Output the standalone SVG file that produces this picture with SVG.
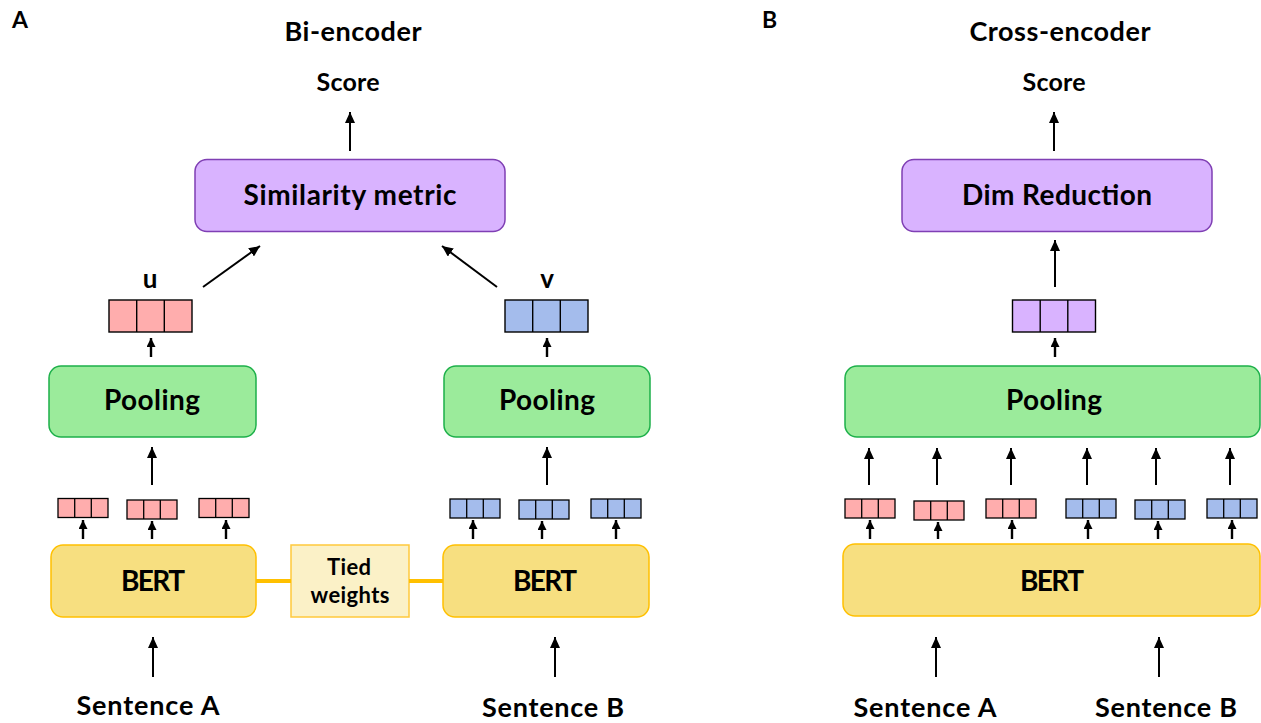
<svg xmlns="http://www.w3.org/2000/svg" xmlns:xlink="http://www.w3.org/1999/xlink" width="1261" height="723" viewBox="0 0 1261 723">
  <style>
    text { font-family: Lato, "Liberation Sans", sans-serif; font-weight: bold; fill: #000; }
    .mid { text-anchor: middle; }
    .panel { font-size: 23px; }
    .title { font-size: 27px; }
    .score { font-size: 25px; }
    .label { font-size: 28px; }
    .vname { font-size: 26px; }
    .tied { font-size: 22px; }
    .sent { font-size: 27px; }
    .metric { fill: #D9B3FF; stroke: #7F3FB4; stroke-width: 1.5; }
    .pool { fill: #9BEB9B; stroke: #1DB04A; stroke-width: 1.5; }
    .bert { fill: #F7DF80; stroke: #FFC000; stroke-width: 1.5; }
    .tiedbox { fill: #FBF1C7; stroke: #FFC93C; stroke-width: 1.5; }
    .link { stroke: #FFC000; stroke-width: 4; }
    .arrow { stroke: #000; stroke-width: 2; fill: none; marker-end: url(#head); }
    .arrow-s { stroke: #000; stroke-width: 2.4; fill: none; marker-end: url(#head-s); }
    .pink { fill: #FFADAD; }
    .blue { fill: #A4BCEC; }
    .lilac { fill: #D9B3FF; }
  </style>
  <defs>
    <marker id="head" markerUnits="userSpaceOnUse" markerWidth="11" markerHeight="10" refX="11" refY="5" orient="auto">
      <path d="M0,0 L11,5 L0,10 z" fill="#000"/>
    </marker>
    <marker id="head-s" markerUnits="userSpaceOnUse" markerWidth="9" markerHeight="9" refX="9" refY="4.5" orient="auto">
      <path d="M0,0 L9,4.5 L0,9 z" fill="#000"/>
    </marker>
    <!-- token embedding: three cells -->
    <g id="vec-s">
      <rect x="0" y="0" width="50" height="19" stroke="#000" stroke-width="1.3"/>
      <path d="M16.7,0 V19 M33.3,0 V19" stroke="#000" stroke-width="1.3"/>
    </g>
    <!-- sentence embedding: three cells -->
    <g id="vec-l">
      <rect x="0" y="0" width="83" height="32" stroke="#000" stroke-width="1.4"/>
      <path d="M27.7,0 V32 M55.3,0 V32" stroke="#000" stroke-width="1.4"/>
    </g>
  </defs>

  <rect width="1261" height="723" fill="#fff"/>

  <!-- panel headings -->
  <text class="panel" x="12" y="28">A</text>
  <text class="panel" x="762" y="28">B</text>
  <text class="title mid" x="353" y="41" textLength="137">Bi-encoder</text>
  <text class="title mid" x="1060" y="41" textLength="181">Cross-encoder</text>
  <text class="score mid" x="348" y="91" textLength="63">Score</text>
  <text class="score mid" x="1054" y="91" textLength="63">Score</text>

  <!-- ===== Bi-encoder ===== -->
  <g id="similarity-metric">
    <rect class="metric" x="195" y="159.5" width="310" height="72" rx="12"/>
    <text class="label mid" x="350" y="205" textLength="213">Similarity metric</text>
  </g>
  <g id="vector-u">
    <text class="vname mid" x="150" y="288">u</text>
    <use xlink:href="#vec-l" class="pink" x="109" y="300"/>
  </g>
  <g id="vector-v">
    <text class="vname mid" x="547" y="288">v</text>
    <use xlink:href="#vec-l" class="blue" x="505" y="300"/>
  </g>
  <g id="pooling-a">
    <rect class="pool" x="49" y="366" width="207" height="71" rx="12"/>
    <text class="label mid" x="152" y="410" textLength="96">Pooling</text>
  </g>
  <g id="pooling-b">
    <rect class="pool" x="444" y="366" width="206" height="71" rx="12"/>
    <text class="label mid" x="547" y="410" textLength="96">Pooling</text>
  </g>
  <g id="tokens-a">
    <use xlink:href="#vec-s" class="pink" x="58" y="498.5"/>
    <use xlink:href="#vec-s" class="pink" x="127" y="500"/>
    <use xlink:href="#vec-s" class="pink" x="199" y="498.5"/>
  </g>
  <g id="tokens-b">
    <use xlink:href="#vec-s" class="blue" x="450" y="499"/>
    <use xlink:href="#vec-s" class="blue" x="519" y="500"/>
    <use xlink:href="#vec-s" class="blue" x="591" y="499"/>
  </g>
  <g id="bert-a">
    <rect class="bert" x="51" y="545" width="205" height="72" rx="12"/>
    <text class="label mid" x="153" y="591" textLength="64">BERT</text>
  </g>
  <g id="bert-b">
    <rect class="bert" x="443" y="545" width="206" height="72" rx="12"/>
    <text class="label mid" x="545" y="591" textLength="64">BERT</text>
  </g>
  <g id="tied-weights">
    <rect class="tiedbox" x="291" y="545" width="118" height="72"/>
    <text class="tied mid" x="349" y="575" textLength="44">Tied</text>
    <text class="tied mid" x="350" y="603" textLength="79">weights</text>
  </g>
  <g id="sentence-a">
    <text class="sent mid" x="148" y="715" textLength="143">Sentence A</text>
  </g>
  <g id="sentence-b">
    <text class="sent mid" x="553" y="717" textLength="142">Sentence B</text>
  </g>

  <!-- ===== Cross-encoder ===== -->
  <g id="dim-reduction">
    <rect class="metric" x="902" y="159.5" width="310" height="72" rx="12"/>
    <text class="label mid" x="1057" y="205" textLength="190">Dim Reduction</text>
  </g>
  <g id="vector-joint">
    <use xlink:href="#vec-l" class="lilac" x="1012.5" y="300"/>
  </g>
  <g id="pooling-joint">
    <rect class="pool" x="845" y="366" width="415" height="71" rx="12"/>
    <text class="label mid" x="1054" y="410" textLength="96">Pooling</text>
  </g>
  <g id="tokens-joint">
    <use xlink:href="#vec-s" class="pink" x="845" y="499"/>
    <use xlink:href="#vec-s" class="pink" x="914" y="501"/>
    <use xlink:href="#vec-s" class="pink" x="986" y="499"/>
    <use xlink:href="#vec-s" class="blue" x="1066" y="499"/>
    <use xlink:href="#vec-s" class="blue" x="1135" y="500"/>
    <use xlink:href="#vec-s" class="blue" x="1207" y="499"/>
  </g>
  <g id="bert-joint">
    <rect class="bert" x="843" y="544" width="417" height="72" rx="12"/>
    <text class="label mid" x="1052" y="591" textLength="64">BERT</text>
  </g>
  <g id="sentence-a-joint">
    <text class="sent mid" x="925" y="717" textLength="143">Sentence A</text>
  </g>
  <g id="sentence-b-joint">
    <text class="sent mid" x="1166" y="717" textLength="142">Sentence B</text>
  </g>

  <!-- connectors -->
  <g id="connectors">
    <!-- tied weights links -->
    <line class="link" x1="256" y1="581" x2="291" y2="581"/>
    <line class="link" x1="409" y1="581" x2="443" y2="581"/>

    <!-- bi-encoder -->
    <line class="arrow" x1="350" y1="151" x2="350" y2="112"/>
    <line class="arrow" x1="203" y1="287" x2="260" y2="246"/>
    <line class="arrow" x1="497" y1="287" x2="442" y2="246"/>
    <line class="arrow-s" x1="151" y1="357" x2="151" y2="338"/>
    <line class="arrow-s" x1="547" y1="357" x2="547" y2="338"/>
    <line class="arrow" x1="152" y1="485" x2="152" y2="447"/>
    <line class="arrow" x1="547" y1="485" x2="547" y2="447"/>
    <line class="arrow-s" x1="83" y1="539" x2="83" y2="520"/>
    <line class="arrow-s" x1="152" y1="539" x2="152" y2="521"/>
    <line class="arrow-s" x1="226" y1="539" x2="226" y2="520"/>
    <line class="arrow-s" x1="473" y1="539" x2="473" y2="520"/>
    <line class="arrow-s" x1="542" y1="539" x2="542" y2="521"/>
    <line class="arrow-s" x1="616" y1="539" x2="616" y2="520"/>
    <line class="arrow" x1="153" y1="677" x2="153" y2="637"/>
    <line class="arrow" x1="555" y1="677" x2="555" y2="637"/>

    <!-- cross-encoder -->
    <line class="arrow" x1="1054" y1="151" x2="1054" y2="112"/>
    <line class="arrow" x1="1055" y1="287" x2="1055" y2="240"/>
    <line class="arrow-s" x1="1055" y1="357" x2="1055" y2="338"/>
    <line class="arrow" x1="869" y1="485" x2="869" y2="448"/>
    <line class="arrow" x1="937" y1="485" x2="937" y2="448"/>
    <line class="arrow" x1="1011" y1="485" x2="1011" y2="448"/>
    <line class="arrow" x1="1087" y1="485" x2="1087" y2="448"/>
    <line class="arrow" x1="1156" y1="485" x2="1156" y2="448"/>
    <line class="arrow" x1="1230" y1="485" x2="1230" y2="448"/>
    <line class="arrow-s" x1="870" y1="539" x2="870" y2="520"/>
    <line class="arrow-s" x1="938" y1="539" x2="938" y2="522"/>
    <line class="arrow-s" x1="1012" y1="539" x2="1012" y2="520"/>
    <line class="arrow-s" x1="1088" y1="539" x2="1088" y2="520"/>
    <line class="arrow-s" x1="1158" y1="539" x2="1158" y2="521"/>
    <line class="arrow-s" x1="1232" y1="539" x2="1232" y2="520"/>
    <line class="arrow" x1="936" y1="677" x2="936" y2="637"/>
    <line class="arrow" x1="1159" y1="677" x2="1159" y2="637"/>
  </g>
</svg>
